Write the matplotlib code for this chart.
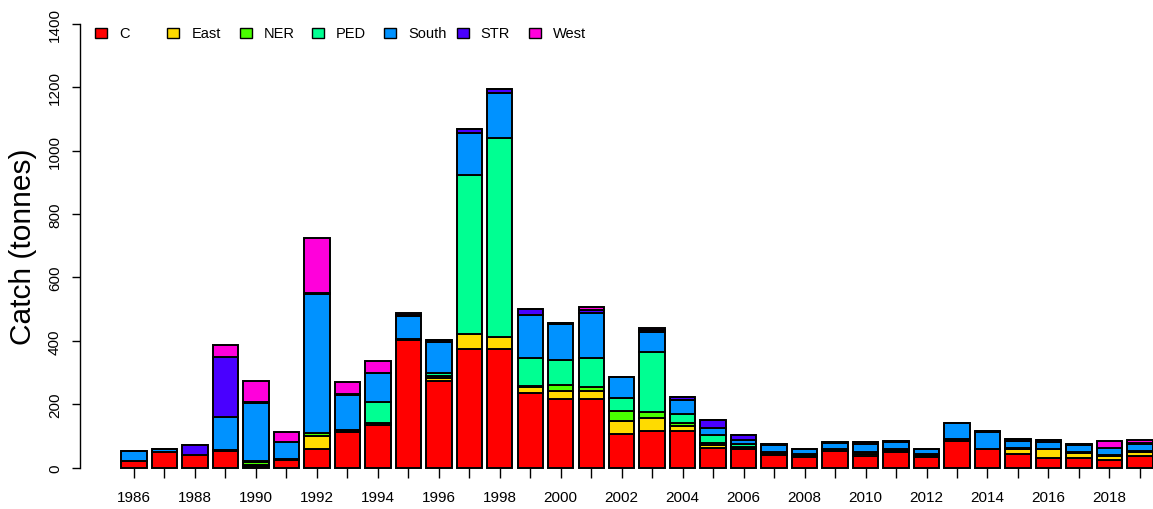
import numpy as np
import matplotlib.pyplot as plt
from matplotlib.patches import Rectangle

plt.rcParams['font.family'] = ['Liberation Sans', 'DejaVu Sans']

years = np.arange(1986, 2020)
regions = ['C', 'East', 'NER', 'PED', 'South', 'STR', 'West']
colours = ['#FF0000', '#FFDB00', '#49FF00', '#00FF92', '#0092FF', '#4900FF', '#FF00DB']

# catch by region (tonnes), one value per year 1986-2019
c_catch = [21, 48, 38, 53, 4, 25, 59, 112, 133, 401, 272, 375, 375, 236, 217, 217, 106,
           115, 116, 63, 57, 39, 32, 52, 37, 50, 34, 84, 60, 44, 31, 31, 25, 37]
east_catch = [0, 0, 0, 0, 3, 0, 40, 2, 0, 3, 9, 47, 36, 18, 26, 26, 42,
              42, 15, 7, 5, 4, 3, 3, 6, 3, 2, 3, 0, 14, 27, 16, 11, 12]
ner_catch = [0, 0, 0, 2, 9, 2, 11, 5, 6, 3, 8, 0, 0, 2, 16, 10, 30,
             17, 11, 6, 4, 3, 3, 2, 7, 3, 3, 3, 0, 4, 2, 3, 3, 3]
ped_catch = [0, 0, 0, 0, 3, 0, 0, 0, 67, 0, 8, 500, 629, 90, 79, 93, 41,
             191, 27, 27, 8, 4, 4, 0, 0, 4, 3, 0, 0, 0, 0, 0, 0, 0]
south_catch = [32, 10, 2, 103, 186, 53, 438, 109, 92, 72, 100, 134, 141, 136, 114, 142, 66,
               64, 44, 23, 14, 21, 18, 19, 24, 21, 18, 52, 52, 22, 22, 20, 24, 22]
str_catch = [0, 2, 30, 192, 3, 0, 3, 3, 0, 4, 5, 13, 14, 19, 3, 9, 0,
             6, 10, 24, 16, 3, 0, 4, 5, 3, 0, 0, 3, 6, 5, 3, 0, 4]
west_catch = [0, 0, 0, 38, 65, 31, 172, 38, 37, 4, 0, 0, 0, 0, 0, 10, 0,
              4, 0, 0, 0, 0, 0, 0, 2, 0, 0, 0, 0, 0, 0, 0, 21, 10]
series = [c_catch, east_catch, ner_catch, ped_catch, south_catch, str_catch, west_catch]

W, H = 1153, 510
fig = plt.figure(figsize=(W / 100, H / 100), dpi=100)
ax = fig.add_axes([80 / W, 24 / H, 1073 / W, 477 / H])

x = np.arange(len(years))
bottom = np.zeros(len(years))
for vals, col in zip(series, colours):
    vals = np.array(vals, dtype=float)
    ax.bar(x, vals, width=0.833, bottom=bottom, color=col,
           edgecolor='black', linewidth=1.4)
    bottom += vals

ax.set_xlim(-1.772, 33.43)
ax.set_ylim(-55.2, 1450.5)

for s in ['top', 'right']:
    ax.spines[s].set_visible(False)
ax.spines['bottom'].set_position(('data', 0))
ax.spines['bottom'].set_color('none')
ax.spines['left'].set_bounds(0, 1400)
ax.spines['left'].set_linewidth(1.0)

ax.set_yticks(np.arange(0, 1401, 200))
ax.set_yticklabels([str(v) for v in range(0, 1401, 200)], rotation=90, va='center')
ax.tick_params(axis='y', length=6, width=1.0, pad=7, labelsize=11)

ax.set_xticks(x)
ax.set_xticklabels([str(y) if (y - 1986) % 2 == 0 else '' for y in years])
ax.tick_params(axis='x', length=7, width=1.0, color='black', pad=9, labelsize=11)

fig.text(23.5 / W, 1 - 247 / H, 'Catch (tonnes)', rotation=90, fontsize=21.5,
         ha='center', va='center')

# legend along the top, equal column widths
for i, (name, col) in enumerate(zip(regions, colours)):
    x0 = 95 + i * 72.3
    fig.add_artist(Rectangle((x0 / W, 1 - 38.5 / H), 12 / W, 9.5 / H,
                             transform=fig.transFigure, facecolor=col,
                             edgecolor='black', linewidth=1.0))
    fig.text((x0 + 24) / W, 1 - 34 / H, name, fontsize=10.5, ha='left', va='center')

fig.savefig('out.png', dpi=100)
